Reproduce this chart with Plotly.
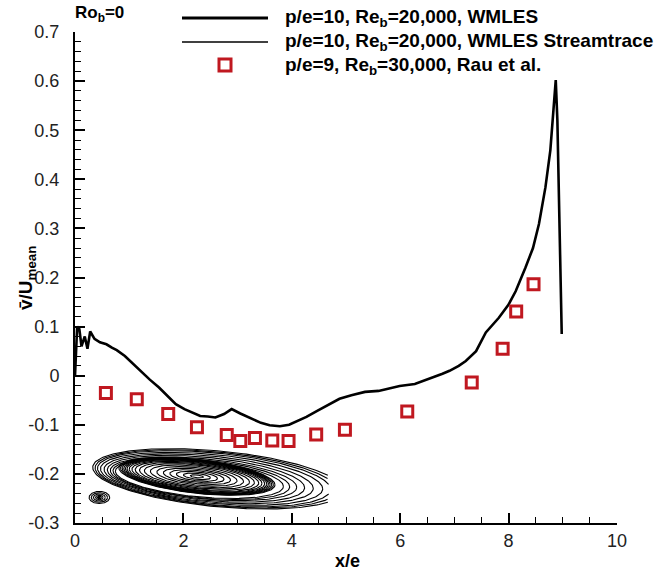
import numpy as np
import plotly.graph_objects as go

# ---------------- data ----------------
wmles_x = [0.0, 0.04, 0.08, 0.12, 0.18, 0.23, 0.28, 0.36, 0.46, 0.58, 0.68, 0.77,
           0.92, 1.08, 1.25, 1.38, 1.55, 1.69, 1.86, 2.02, 2.15, 2.31, 2.45, 2.59,
           2.75, 2.89, 3.05, 3.24, 3.43, 3.59, 3.78, 3.95, 4.08, 4.27, 4.46, 4.68,
           4.88, 5.1, 5.35, 5.6, 5.8, 5.99, 6.27, 6.45, 6.6, 6.78, 6.91, 7.08, 7.21,
           7.4, 7.58, 7.82, 8.0, 8.13, 8.31, 8.45, 8.56, 8.68, 8.77, 8.83, 8.87,
           8.9, 8.93, 8.96, 8.98]
wmles_y = [0.0, 0.1, 0.095, 0.06, 0.08, 0.055, 0.09, 0.075, 0.068, 0.064, 0.057, 0.052,
           0.04, 0.023, 0.005, -0.008, -0.024, -0.039, -0.058, -0.068, -0.075, -0.082,
           -0.083, -0.085, -0.078, -0.068, -0.077, -0.086, -0.096, -0.101, -0.103,
           -0.1, -0.094, -0.084, -0.072, -0.058, -0.047, -0.04, -0.033, -0.031,
           -0.026, -0.021, -0.017, -0.01, -0.004, 0.004, 0.01, 0.02, 0.03, 0.05,
           0.088, 0.118, 0.145, 0.172, 0.22, 0.26, 0.309, 0.384, 0.459, 0.54, 0.602,
           0.52, 0.37, 0.234, 0.085]

rau_x = [0.57, 1.14, 1.72, 2.25, 2.80, 3.05, 3.32, 3.64, 3.94, 4.45, 4.98,
         6.13, 7.32, 7.89, 8.14, 8.46]
rau_y = [-0.035, -0.048, -0.078, -0.105, -0.121, -0.133, -0.127, -0.132, -0.133,
         -0.12, -0.11, -0.073, -0.014, 0.055, 0.131, 0.186]

# streamtrace inset: loop semi-axes (x/e units, v units)
core_a = [0.12, 0.25, 0.38, 0.5, 0.62, 0.74, 0.86, 0.97, 1.06, 1.14, 1.2, 1.25,
          1.29, 1.32, 1.35, 1.38, 1.41, 1.44]
outer_a = [1.55, 1.63, 1.72, 1.82, 1.93, 2.05, 2.15, 2.23, 2.31]
outer_b = [0.037, 0.039, 0.041, 0.044, 0.047, 0.05, 0.053, 0.055, 0.057]
corner_a = [0.02, 0.04, 0.07, 0.11, 0.15, 0.19]

yticks = [-0.3, -0.2, -0.1, 0, 0.1, 0.2, 0.3, 0.4, 0.5, 0.6, 0.7]
ytick_text = ["-0.3", "-0.2", "-0.1", "0", "0.1", "0.2", "0.3", "0.4", "0.5", "0.6", "0.7"]
xticks = [0, 2, 4, 6, 8, 10]

legend_names = ["p/e=10, Re<sub>b</sub>=20,000, WMLES",
                "p/e=10, Re<sub>b</sub>=20,000, WMLES Streamtrace",
                "p/e=9, Re<sub>b</sub>=30,000, Rau et al."]

RED = "#c01820"
FONT = "Liberation Sans, Arial, sans-serif"
XR, YR = [0, 10], [-0.3, 0.7]

# plot area in pixels: x 75..617, y 32..523
PL, PR, PT, PB = 75, 617, 32, 523

# ---------------- streamtrace geometry ----------------
sx, sy = [], []


def add_loop(cx, cy, a, b, slope, xmax=None):
    t = np.linspace(0, 2 * np.pi, 240)
    x = cx + a * np.cos(t)
    y = cy + b * np.sin(t) + slope * (x - cx)
    if xmax is not None and x.max() > xmax:
        idx = np.where(x <= xmax)[0]
        x, y = x[idx], y[idx]
    sx.extend(x.tolist() + [None])
    sy.extend(y.tolist() + [None])


for a in core_a:
    add_loop(2.25, -0.205, a, a * 0.024, -0.012)
for a, b in zip(outer_a, outer_b):
    add_loop(2.25 + (a - 1.45) * 0.45, -0.21, a, b, -0.01, xmax=4.68)
for a in corner_a:
    add_loop(0.45, -0.248, a, a * 0.065, 0.0)

fig = go.Figure()
fig.add_trace(go.Scatter(x=sx, y=sy, mode="lines", name=legend_names[1],
                         line=dict(color="black", width=1.1), showlegend=False,
                         hoverinfo="skip"))
fig.add_trace(go.Scatter(x=wmles_x, y=wmles_y, mode="lines", name=legend_names[0],
                         line=dict(color="black", width=2.6), showlegend=False))
fig.add_trace(go.Scatter(x=rau_x, y=rau_y, mode="markers", name=legend_names[2],
                         marker=dict(symbol="square-open", size=11, color=RED,
                                     line=dict(width=3, color=RED)),
                         showlegend=False))

fig.update_xaxes(range=XR, tickmode="array", tickvals=xticks,
                 showline=True, linewidth=2, linecolor="black",
                 ticks="inside", ticklen=10, tickwidth=2, tickcolor="black",
                 minor=dict(ticks="inside", ticklen=6, tickwidth=1, tickcolor="black",
                            tickmode="linear", tick0=0, dtick=0.5, showgrid=False),
                 showgrid=False, zeroline=False,
                 tickfont=dict(family=FONT, size=18, color="#222"))
fig.update_yaxes(range=YR, tickmode="array", tickvals=yticks,
                 ticktext=[t + "  " for t in ytick_text],
                 showline=True, linewidth=2, linecolor="black",
                 ticks="inside", ticklen=10, tickwidth=2, tickcolor="black",
                 minor=dict(ticks="inside", ticklen=6, tickwidth=1, tickcolor="black",
                            tickmode="linear", tick0=0, dtick=0.02, showgrid=False),
                 showgrid=False, zeroline=False,
                 tickfont=dict(family=FONT, size=18, color="#222"))


def px(xp):
    return (xp - PL) / (PR - PL)


def py(yp):
    return (PB - yp) / (PB - PT)


shapes = [
    dict(type="line", xref="paper", yref="paper", x0=px(182), x1=px(268),
         y0=py(18), y1=py(18), line=dict(color="black", width=3)),
    dict(type="line", xref="paper", yref="paper", x0=px(182), x1=px(268),
         y0=py(42), y1=py(42), line=dict(color="black", width=1.3)),
    dict(type="rect", xref="paper", yref="paper",
         x0=px(219), x1=px(231), y0=py(71), y1=py(59),
         line=dict(color=RED, width=3)),
]

annotations = []
for name, yy in zip(legend_names, [18, 42, 66]):
    annotations.append(dict(text="<b>" + name + "</b>", xref="paper", yref="paper",
                            x=px(283), y=py(yy), xanchor="left", yanchor="middle",
                            showarrow=False, font=dict(family=FONT, size=19, color="black")))
annotations.append(dict(text="<b>Ro<sub>b</sub>=0</b>", xref="paper", yref="paper",
                        x=px(73), y=py(14), xanchor="left", yanchor="middle",
                        showarrow=False, font=dict(family=FONT, size=17, color="black")))
annotations.append(dict(text="<b>x/e</b>", xref="paper", yref="paper",
                        x=px(347), y=py(561), xanchor="center", yanchor="middle",
                        showarrow=False, font=dict(family=FONT, size=18, color="black")))
annotations.append(dict(text="<b>v\u0304/U<sub>mean</sub></b>", xref="paper", yref="paper",
                        x=px(27), y=py(278), xanchor="center", yanchor="middle",
                        textangle=-90, showarrow=False,
                        font=dict(family=FONT, size=19, color="black")))

fig.update_layout(width=659, height=573,
                  margin=dict(l=PL, r=659 - PR, t=PT, b=573 - PB),
                  paper_bgcolor="white", plot_bgcolor="white",
                  shapes=shapes, annotations=annotations, showlegend=False)

fig.write_html("out.html")
